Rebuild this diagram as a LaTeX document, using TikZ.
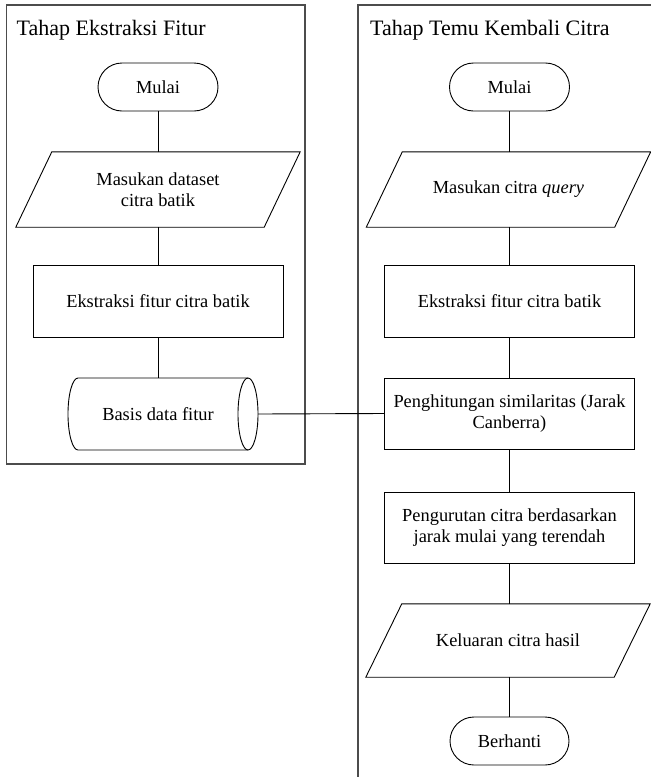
\documentclass[tikz,border=0pt]{standalone}
\usepackage{fontspec}
\setmainfont{Liberation Serif}
\begin{document}
\begin{tikzpicture}[x=1pt,y=-1pt,
  stageframe/.style={draw=black!70, line width=1.3pt},
  shapeline/.style={draw=black, line width=0.9pt},
  txt/.style={font=\fontsize{18.4}{21.5}\selectfont, align=center, inner sep=0pt},
  termbox/.style={txt, shapeline, rounded corners=24pt, minimum width=120pt, minimum height=48pt},
  procbox/.style={txt, shapeline, minimum width=250pt, minimum height=72pt},
  iobox/.style={txt, minimum width=284pt, minimum height=75pt},
  connector/.style={draw=black, line width=0.9pt},
  stagetitle/.style={font=\fontsize{22}{26}\selectfont, anchor=base west, inner sep=0pt}]

% page
\fill[white] (0,0) rectangle (651,777);
\useasboundingbox (0,0) rectangle (651,777);

% stage frames
\draw[stageframe] (6.5,5) rectangle (305,464);
\draw[stageframe] (651,5) -- (358,5) -- (358,777);
\node[stagetitle] (titleA) at (16.5,35) {Tahap Ekstraksi Fitur};
\node[stagetitle] (titleB) at (370,35) {Tahap Temu Kembali Citra};

% feature extraction stage
\node[termbox] (startA) at (158,87) {Mulai};
\node[iobox] (inA) at (158,189.5) {Masukan dataset\\citra batik};
\node[procbox] (featA) at (158,301) {Ekstraksi fitur citra batik};
\node[txt, minimum width=170pt, minimum height=72pt] (db) at (158,414) {Basis data fitur};

% stored-data cylinder
\draw[shapeline] (78,378) -- (248,378) (248,450) -- (78,450)
  arc[start angle=270, end angle=90, x radius=10pt, y radius=36pt];
\draw[shapeline] (248,414) ellipse [x radius=10pt, y radius=36pt];
\coordinate (dbport) at (258,414);

% retrieval stage
\node[termbox] (startB) at (509.5,87) {Mulai};
\node[iobox] (inB) at (508.5,189.5) {Masukan citra \textit{query}};
\node[procbox] (featB) at (509.5,301) {Ekstraksi fitur citra batik};
\node[procbox, minimum height=71pt] (simB) at (509.5,413.5) {Penghitungan similaritas (Jarak\\Canberra)};
\node[procbox, minimum height=71pt] (sortB) at (509.5,527.5) {Pengurutan citra berdasarkan\\jarak mulai yang terendah};
\node[iobox, minimum height=73pt] (outB) at (508,640.5) {Keluaran citra hasil};
\node[termbox, minimum width=119pt] (stopB) at (509.5,741) {Berhanti};

% parallelogram outlines for input/output
\foreach \n in {inA,inB,outB}
  \draw[shapeline] ([xshift=36pt]\n.north west) -- (\n.north east)
    -- ([xshift=-36pt]\n.south east) -- (\n.south west) -- cycle;

% flow lines
\draw[connector] (startA.south) -- (startA.south |- inA.north);
\draw[connector] (featA.north |- inA.south) -- (featA.north);
\draw[connector] (featA.south) -- (featA.south |- db.north);
\draw[connector] (startB.south) -- (startB.south |- inB.north);
\draw[connector] (featB.north |- inB.south) -- (featB.north);
\draw[connector] (featB.south) -- (simB.north);
\draw[connector] (simB.south) -- (sortB.north);
\draw[connector] (sortB.south) -- (sortB.south |- outB.north);
\draw[connector] (stopB.north |- outB.south) -- (stopB.north);
\draw[connector] (dbport) -- (simB.west);
\end{tikzpicture}
\end{document}
